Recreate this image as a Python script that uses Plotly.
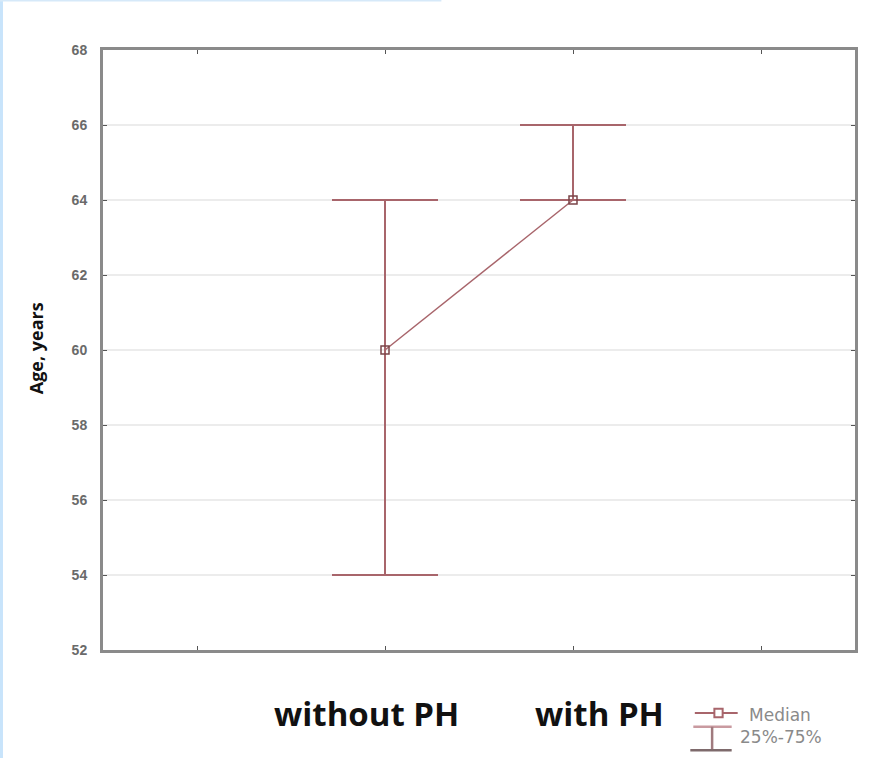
import plotly.graph_objects as go

groups = ["without PH", "with PH"]
group_pos = [1, 2]
median = [60, 64]
q25 = [54, 64]
q75 = [64, 66]
y_ticks = [52, 54, 56, 58, 60, 62, 64, 66, 68]

red = "#a8656b"
axis_col = "#8a8a8a"

fig = go.Figure()

# whisker (25%-75%) ranges
fig.add_trace(go.Scatter(
    x=group_pos, y=median, mode="markers",
    marker=dict(size=0.1, color=red),
    error_y=dict(type="data", symmetric=False,
                 array=[q75[i] - median[i] for i in range(2)],
                 arrayminus=[median[i] - q25[i] for i in range(2)],
                 color=red, thickness=2, width=53),
    showlegend=False, hoverinfo="skip"))

# median line
fig.add_trace(go.Scatter(
    x=group_pos, y=median, mode="lines+markers",
    line=dict(color=red, width=1.5),
    marker=dict(symbol="square-open", size=8, color="#7a4448",
                line=dict(width=1.5)),
    showlegend=False))

# x labels
label_x = [0.904, 2.14]
for gx, g in zip(label_x, groups):
    fig.add_annotation(x=gx, y=-0.106, xref="x", yref="paper", text="<b>" + g + "</b>",
                       showarrow=False, yanchor="middle", xanchor="center",
                       font=dict(family="Open Sans", size=33, color="#111111"))

# y title
fig.add_annotation(x=-0.089, y=0.503, xref="paper", yref="paper",
                   text="<b>Age, years</b>", textangle=-90, showarrow=False,
                   xanchor="center", yanchor="middle",
                   font=dict(family="Open Sans", size=18, color="#111111"))

# custom legend
fig.add_annotation(x=0.856, y=-0.108, xref="paper", yref="paper", text="Median",
                   showarrow=False, xanchor="left", yanchor="middle",
                   font=dict(family="DejaVu Sans", size=17, color="#8a8a8a"))
fig.add_annotation(x=0.845, y=-0.145, xref="paper", yref="paper", text="25%-75%",
                   showarrow=False, xanchor="left", yanchor="middle",
                   font=dict(family="DejaVu Sans", size=17, color="#8a8a8a"))
shapes = [
    dict(type="line", xref="paper", yref="paper", x0=0.787, x1=0.844, y0=-0.105, y1=-0.105,
         line=dict(color=red, width=2)),
    dict(type="rect", xref="paper", yref="paper", x0=0.813, x1=0.824, y0=-0.112, y1=-0.098,
         line=dict(color=red, width=2), fillcolor="white"),
    dict(type="line", xref="paper", yref="paper", x0=0.785, x1=0.836, y0=-0.128, y1=-0.128,
         line=dict(color="#c99aa0", width=2.5)),
    dict(type="line", xref="paper", yref="paper", x0=0.810, x1=0.810, y0=-0.128, y1=-0.167,
         line=dict(color="#a07a7e", width=2.5)),
    dict(type="line", xref="paper", yref="paper", x0=0.781, x1=0.836, y0=-0.167, y1=-0.167,
         line=dict(color="#7e6a6c", width=2.5)),
    # light blue page edge
    dict(type="rect", xref="paper", yref="paper", x0=-0.137, x1=-0.133, y0=-0.18, y1=1.084,
         line=dict(width=0), fillcolor="#c8e4fb", layer="below"),
    dict(type="rect", xref="paper", yref="paper", x0=-0.137, x1=0.45, y0=1.081, y1=1.084,
         line=dict(width=0), fillcolor="#d6e9f9", layer="below"),
]

fig.update_layout(
    width=879, height=758,
    margin=dict(l=103, r=24, t=50, b=108),
    paper_bgcolor="white", plot_bgcolor="white",
    shapes=shapes,
    xaxis=dict(range=[-0.5, 3.5], tickvals=[0, 1, 2, 3], ticktext=["", "", "", ""],
               showgrid=False, zeroline=False, showline=True, linecolor=axis_col,
               linewidth=3, mirror="ticks", ticks="inside", ticklen=4,
               tickcolor="#555555", fixedrange=True),
    yaxis=dict(range=[52, 68], tickvals=y_ticks, ticktext=["<b>%d</b>" % v for v in y_ticks],
               showgrid=True, gridcolor="#ececec", gridwidth=1.5, zeroline=False,
               showline=True, linecolor=axis_col, linewidth=3, mirror="ticks",
               ticks="inside", ticklen=4, tickcolor="#555555",
               tickfont=dict(family="Arial", size=14, color="#6a6a6a"),
               ticklabelstandoff=10),
    showlegend=False,
)

fig.write_html("out.html")
